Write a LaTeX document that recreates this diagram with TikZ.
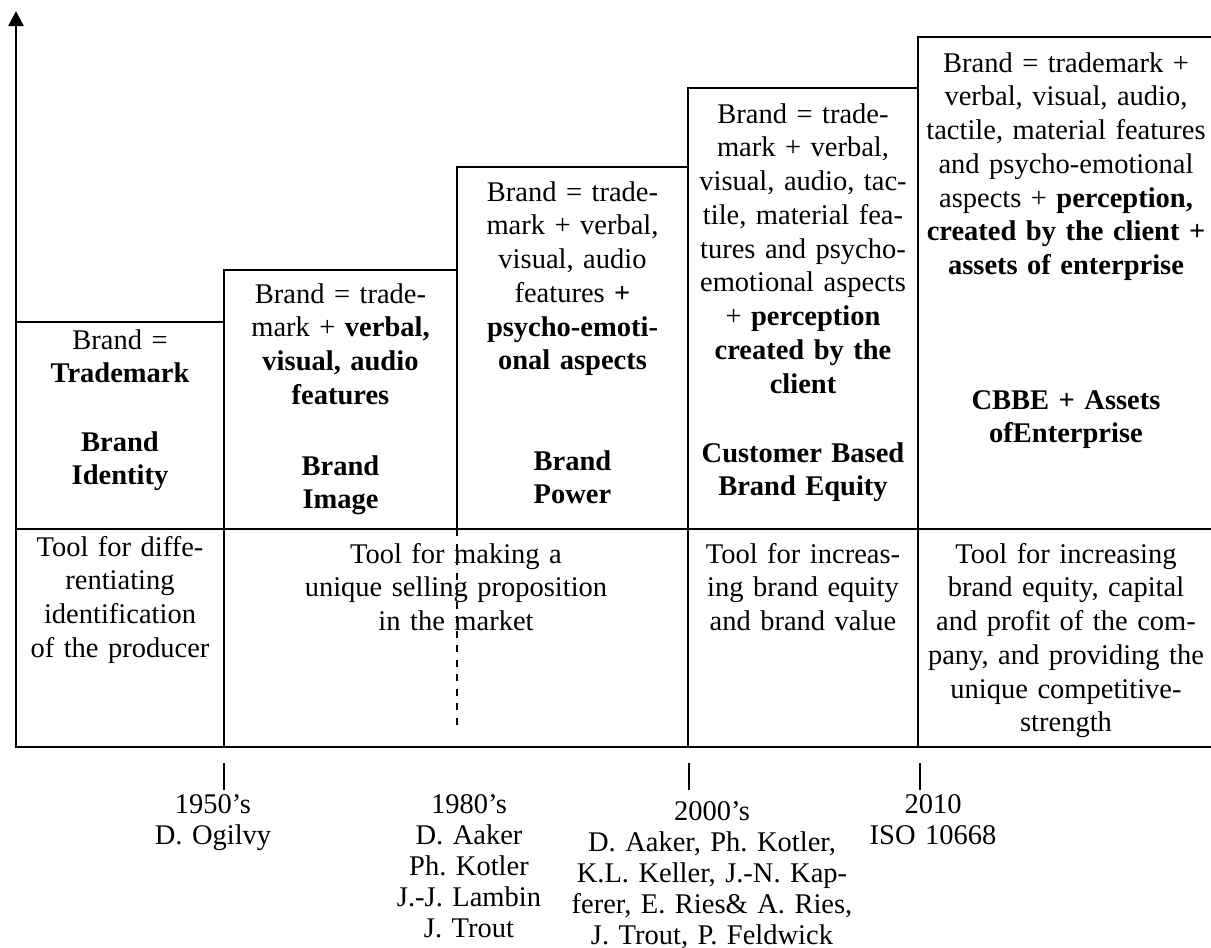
\documentclass[tikz,border=0pt]{standalone}
\usepackage{fontspec}
\setmainfont{Liberation Serif}
\usetikzlibrary{arrows.meta, positioning}
\frenchspacing

\tikzset{
  txt/.style={align=center, text width=130pt, inner sep=0pt, anchor=base, font=\fontsize{11.4}{13.5}\selectfont},
  yrs/.style={txt, font=\fontsize{11.4}{12.4}\selectfont},
  frame/.style={line width=0.9pt},
}

\begin{document}
\begin{tikzpicture}[x=0.4pt, y=-0.4pt, >={Triangle[width=6pt,length=6pt]}, frame]
  \useasboundingbox (0,0) rectangle (1211,947);

  % axis
  \coordinate (O) at (16,747);
  \coordinate (top) at (16,11);
  \draw[->] (O) -- (top);

  % steps
  \draw (16,322) -- (224,322) -- (224,270) -- (457,270) -- (457,167) -- (688,167)
        -- (688,88) -- (918,88) -- (918,37) -- (1211,37);
  \draw (224,270) -- (224,747);
  \draw (457,167) -- (457,529);
  \draw (688,88) -- (688,747);
  \draw (918,37) -- (918,747);
  \draw (16,529) -- (1211,529);
  \draw (15,747) -- (1211,747);
  \draw[dashed, line width=0.8pt, dash pattern=on 2.8pt off 3pt] (457,529) -- (457,731);

  % ticks
  \draw[line width=0.6pt] (224,763) -- (224,790) (689,763) -- (689,790) (920,763) -- (920,790);

  % top boxes
  \node[txt] (B1) at (120,349) {Brand =\\\textbf{Trademark}};
  \node[txt] (N1) at (120,451) {\textbf{Brand}\\\textbf{Identity}};

  \node[txt] (B2) at (340.5,303) {Brand = trade-\\mark + \textbf{verbal,}\\\textbf{visual, audio}\\\textbf{features}};
  \node[txt] (N2) at (340.5,475) {\textbf{Brand}\\\textbf{Image}};

  \node[txt] (B3) at (572.5,201) {Brand = trade-\\mark + verbal,\\visual, audio\\features \textbf{+}\\\textbf{psycho-emoti-}\\\textbf{onal aspects}};
  \node[txt] (N3) at (572.5,470) {\textbf{Brand}\\\textbf{Power}};

  \node[txt] (B4) at (803,123) {Brand = trade-\\mark + verbal,\\visual, audio, tac-\\tile, material fea-\\tures and psycho-\\emotional aspects\\+ \textbf{perception}\\\textbf{created by the}\\\textbf{client}};
  \node[txt] (N4) at (803,462) {\textbf{Customer Based}\\\textbf{Brand Equity}};

  \node[txt] (B5) at (1066,72) {Brand = trademark +\\verbal, visual, audio,\\tactile, material features\\and psycho-emotional\\aspects + \textbf{perception,}\\\textbf{created by the client +}\\\textbf{assets of enterprise}};
  \node[txt] (N5) at (1066,409) {\textbf{CBBE + Assets}\\\textbf{ofEnterprise}};

  % tools
  \node[txt] (T1) at (120,556) {Tool for diffe-\\rentiating\\identification\\of the producer};
  \node[txt] (T2) at (456,563) {Tool for making a\\unique selling proposition\\in the market};
  \node[txt] (T4) at (803,563) {Tool for increas-\\ing brand equity\\and brand value};
  \node[txt] (T5) at (1066,563) {Tool for increasing\\brand equity, capital\\and profit of the com-\\pany, and providing the\\unique competitive-\\strength};

  % periods
  \node[yrs] (Y1) at (213,813) {1950's\\D. Ogilvy};
  \node[yrs] (Y2) at (469,813) {1980's\\D. Aaker\\Ph. Kotler\\J.-J. Lambin\\J. Trout};
  \node[yrs] (Y3) at (712,820) {2000's\\D. Aaker, Ph. Kotler,\\K.L. Keller, J.-N. Kap-\\ferer, E. Ries\& A. Ries,\\J. Trout, P. Feldwick};
  \node[yrs] (Y4) at (933,813) {2010\\ISO 10668};
\end{tikzpicture}
\end{document}
